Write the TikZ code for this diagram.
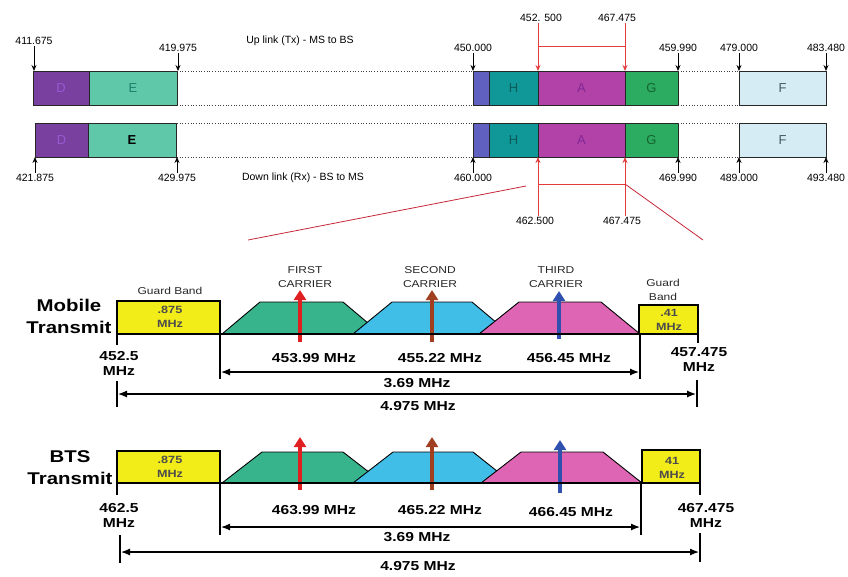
\documentclass[tikz,border=0pt]{standalone}
\usepackage{fontspec}
\setmainfont{Liberation Sans}
\newfontfamily\widefont[FakeStretch=1.2]{Liberation Sans}
\usetikzlibrary{arrows.meta}
\definecolor{bandD}{RGB}{121,64,160}
\definecolor{bandE}{RGB}{95,200,168}
\definecolor{bandP}{RGB}{96,96,192}
\definecolor{bandH}{RGB}{16,152,152}
\definecolor{bandA}{RGB}{178,66,168}
\definecolor{bandG}{RGB}{44,172,96}
\definecolor{bandF}{RGB}{214,236,244}
\definecolor{txtD}{RGB}{150,90,210}
\definecolor{txtE}{RGB}{30,130,110}
\definecolor{txtH}{RGB}{10,90,90}
\definecolor{txtA}{RGB}{130,40,150}
\definecolor{txtG}{RGB}{20,100,50}
\definecolor{txtF}{RGB}{70,90,100}
\definecolor{guardyellow}{RGB}{242,236,24}
\definecolor{cargreen}{RGB}{56,180,140}
\definecolor{carblue}{RGB}{64,190,232}
\definecolor{carpink}{RGB}{222,100,180}
\definecolor{arrred}{RGB}{224,32,32}
\definecolor{arrbrown}{RGB}{160,64,32}
\definecolor{arrblue}{RGB}{48,80,176}
\definecolor{brkred}{RGB}{228,60,60}
\definecolor{zoomred}{RGB}{196,40,56}

\begin{document}
\begin{tikzpicture}[x=1pt, y=-1pt,
  band/.style={draw=black!85, line width=0.8pt},
  dotline/.style={black!75, dotted, line width=0.7pt},
  toplbl/.style={font=\fontsize{10.5}{12}\selectfont, inner sep=1pt, text=black},
  blocklbl/.style={font=\fontsize{13}{15}\selectfont},
  tickarr/.style={black, line width=0.8pt, -{Stealth[length=6pt, width=5pt]}},
  redarr/.style={brkred, line width=0.9pt, -{Stealth[length=6pt, width=5pt]}},
  redline/.style={brkred, line width=0.9pt},
  zoomline/.style={zoomred, line width=0.8pt},
  guard/.style={draw=black, line width=1.6pt, fill=guardyellow},
  carrier/.style={draw=black, line width=0.9pt},
  axisline/.style={black, line width=2.6pt},
  dimline/.style={black, line width=1.4pt},
  dimarr/.style={black, line width=1.2pt, {Latex[length=9pt, width=7pt]}-{Latex[length=9pt, width=7pt]}},
  carrarr/.style={line width=3.2pt, -{Triangle[length=10pt, width=12pt]}},
  bigtitle/.style={font=\widefont\bfseries\fontsize{17}{22}\selectfont, align=center},
  freq/.style={font=\widefont\bfseries\fontsize{13}{15}\selectfont, align=center},
  carlbl/.style={font=\widefont\fontsize{10}{14}\selectfont, align=center, text=black!85},
  inlbl/.style={font=\widefont\bfseries\fontsize{10.5}{14}\selectfont, align=center, text=black!70}]

  \useasboundingbox (0,0) rectangle (848,576);

  % ---------------- Top: band plan ----------------
  % Up link blocks
  \foreach \xa/\xb/\col/\lbl/\tc [count=\i] in {33/89/bandD/D/txtD, 89/177/bandE/E/txtE,
      473/489/bandP//black, 489/538/bandH/H/txtH, 538/625/bandA/A/txtA,
      625/678/bandG/G/txtG, 739/826/bandF/F/txtF} {
    \draw[band, fill=\col] (\xa,71) rectangle (\xb,105);
    \node[blocklbl, text=\tc] (ub\i) at ({(\xa+\xb)/2},88) {\lbl};
  }
  % Down link blocks
  \foreach \xa/\xb/\col/\lbl/\tc [count=\i] in {35/88/bandD/D/txtD, 88/176/bandE/{\textbf{E}}/black,
      473/489/bandP//black, 489/538/bandH/H/txtH, 538/625/bandA/A/txtA,
      625/678/bandG/G/txtG, 739/826/bandF/F/txtF} {
    \draw[band, fill=\col] (\xa,123) rectangle (\xb,157);
    \node[blocklbl, text=\tc] (db\i) at ({(\xa+\xb)/2},140) {\lbl};
  }
  % Dotted gaps
  \foreach \y in {71,105,123,157} {
    \draw[dotline] (177,\y) -- (473,\y);
    \draw[dotline] (678,\y) -- (739,\y);
  }

  % Up link frequencies
  \foreach \x/\val/\ly [count=\i] in {34/411.675/41, 178/419.975/48, 473/450.000/48,
      678/459.990/48, 739/479.000/48, 826/483.480/48} {
    \node[toplbl] (uf\i) at (\x,\ly) {\val};
    \draw[tickarr] (uf\i) -- (\x,71);
  }
  \node[toplbl] (uplink) at (300,41) {Up link (Tx) - MS to BS};

  % Down link frequencies
  \foreach \x/\val [count=\i] in {35/421.875, 177/429.975, 473/460.000,
      678/469.990, 739/489.000, 826/493.480} {
    \node[toplbl] (df\i) at (\x,178) {\val};
    \draw[tickarr] (df\i) -- (\x,157);
  }
  \node[toplbl] (downlink) at (303,178) {Down link (Rx) - BS to MS};

  % Red bracket, up link
  \coordinate (rA) at (538,71);
  \coordinate (rB) at (625,71);
  \node[toplbl] (ra) at (541,18) {452. 500};
  \node[toplbl] (rb) at (617,18) {467.475};
  \draw[redarr] (ra.south -| rA) -- (rA);
  \draw[redarr] (rb.south -| rB) -- (rB);
  \draw[redline] (538,46) -- (625,46);

  % Red bracket, down link
  \coordinate (rC) at (538,157);
  \coordinate (rD) at (625,157);
  \node[toplbl] (rc) at (535,221) {462.500};
  \node[toplbl] (rd) at (622,221) {467.475};
  \draw[redarr] (rc.north -| rC) -- (rC);
  \draw[redarr] (rd.north -| rD) -- (rD);
  \draw[redline] (538,184) -- (625,184);

  % Zoom lines
  \draw[zoomline] (248,240) -- (526,186);
  \draw[zoomline] (625,184) -- (703,240);

  % ---------------- Mobile Transmit ----------------
  \node[bigtitle] (mobtitle) at (69,316) {Mobile\\Transmit};

  % Guard bands
  \draw[guard] (117,301) rectangle (220,334);
  \node[inlbl] (mobg1) at (170,317) {.875\\MHz};
  \node[carlbl] (mobgl1) at (170,291) {Guard Band};
  \draw[guard] (639,305) rectangle (698,334);
  \node[inlbl] (mobg2) at (669,320) {.41\\MHz};
  \node[carlbl] (mobgl2) at (663,290) {Guard\\Band};

  % Carriers
  \draw[carrier, fill=cargreen] (222,334) -- (260,302) -- (343,302) -- (381,334) -- cycle;
  \draw[carrier, fill=carblue] (353,334) -- (392,302) -- (472,302) -- (510,334) -- cycle;
  \draw[carrier, fill=carpink] (479,334) -- (519,302) -- (601,302) -- (640,334) -- cycle;
  \draw[carrarr, arrred] (300,342) -- (300,290);
  \draw[carrarr, arrbrown] (432,342) -- (432,290);
  \draw[carrarr, arrblue] (559,339) -- (559,291);
  \node[carlbl] (mobc1) at (305,277) {FIRST\\CARRIER};
  \node[carlbl] (mobc2) at (430,277) {SECOND\\CARRIER};
  \node[carlbl] (mobc3) at (556,277) {THIRD\\CARRIER};

  % Axis and ticks
  \draw[axisline] (117,334) -- (698,334);
  \draw[axisline] (117,326) -- (117,345);
  \draw[axisline] (698,321) -- (698,343);
  \draw[dimline] (220,334) -- (220,379);
  \draw[dimline] (640,334) -- (640,379);
  \draw[dimline] (117,381) -- (117,407);
  \draw[dimline] (697,380) -- (697,407);
  \draw[dimarr] (221,372) -- (639,372);
  \draw[dimarr] (118,394) -- (696,394);

  % Frequencies
  \node[freq] (mobf0) at (119,363) {452.5\\MHz};
  \node[freq] (mobf4) at (699,360) {457.475\\MHz};
  \node[freq] (mobf1) at (314,358) {453.99 MHz};
  \node[freq] (mobf2) at (440,358) {455.22 MHz};
  \node[freq] (mobf3) at (569,358) {456.45 MHz};
  \node[freq] (mobw1) at (417,383) {3.69 MHz};
  \node[freq] (mobw2) at (418,406) {4.975 MHz};

  % ---------------- BTS Transmit ----------------
  \node[bigtitle] (btstitle) at (70,468) {BTS\\Transmit};

  % Guard bands
  \draw[guard] (117,451) rectangle (220,483);
  \node[inlbl] (btsg1) at (170,467) {.875\\MHz};
  \draw[guard] (642,450) rectangle (700,483);
  \node[inlbl] (btsg2) at (672,468) {41\\MHz};

  % Carriers
  \draw[carrier, fill=cargreen] (222,483) -- (262,452) -- (343,452) -- (383,483) -- cycle;
  \draw[carrier, fill=carblue] (353,483) -- (393,452) -- (473,452) -- (512,483) -- cycle;
  \draw[carrier, fill=carpink] (481,483) -- (521,452) -- (603,452) -- (642,483) -- cycle;
  \draw[carrarr, arrred] (300,490) -- (300,437);
  \draw[carrarr, arrbrown] (432,490) -- (432,437);
  \draw[carrarr, arrblue] (560,493) -- (560,440);

  % Axis and ticks
  \draw[axisline] (117,483) -- (700,483);
  \draw[axisline] (117,476) -- (117,495);
  \draw[axisline] (700,470) -- (700,495);
  \draw[dimline] (220,483) -- (220,535);
  \draw[dimline] (641,483) -- (641,535);
  \draw[dimline] (120,535) -- (120,563);
  \draw[dimline] (700,533) -- (700,562);
  \draw[dimarr] (221,527) -- (640,527);
  \draw[dimarr] (121,552) -- (699,552);

  % Frequencies
  \node[freq] (btsf0) at (119,515) {462.5\\MHz};
  \node[freq] (btsf4) at (706,515) {467.475\\MHz};
  \node[freq] (btsf1) at (314,510) {463.99 MHz};
  \node[freq] (btsf2) at (440,510) {465.22 MHz};
  \node[freq] (btsf3) at (571,512) {466.45 MHz};
  \node[freq] (btsw1) at (417,537) {3.69 MHz};
  \node[freq] (btsw2) at (418,566) {4.975 MHz};

\end{tikzpicture}
\end{document}
